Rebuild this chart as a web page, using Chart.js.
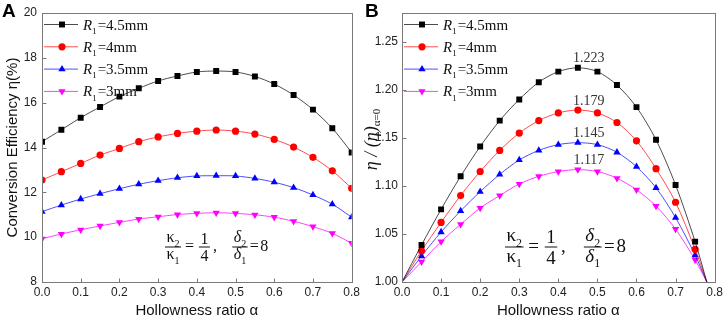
<!DOCTYPE html>
<html>
<head>
<meta charset="utf-8">
<script src="https://cdn.jsdelivr.net/npm/chart.js@4.4.1/dist/chart.umd.min.js"></script>
<style>
  body { margin: 0; background: #fff; }
  #wrap { display: flex; width: 726px; height: 320px; }
  canvas { display: block; }
</style>
</head>
<body>
<div id="wrap">
  <canvas id="chartA" width="363" height="320"></canvas>
  <canvas id="chartB" width="363" height="320"></canvas>
</div>
<script>
// ---- data ----
const radii = ['4.5mm', '4mm', '3.5mm', '3mm'];

const alphaA = [0, 0.05, 0.1, 0.15, 0.2, 0.25, 0.3, 0.35, 0.4, 0.45, 0.5, 0.55, 0.6, 0.65, 0.7, 0.75, 0.8];
const effR45 = [14.26, 14.79, 15.33, 15.81, 16.27, 16.64, 16.97, 17.19, 17.37, 17.41, 17.37, 17.17, 16.83, 16.34, 15.69, 14.86, 13.78];
const effR4  = [12.55, 12.92, 13.29, 13.66, 13.96, 14.26, 14.47, 14.63, 14.73, 14.78, 14.73, 14.60, 14.36, 14.02, 13.56, 12.96, 12.18];
const effR35 = [11.14, 11.43, 11.70, 11.94, 12.16, 12.36, 12.52, 12.65, 12.73, 12.74, 12.73, 12.62, 12.45, 12.21, 11.88, 11.47, 10.89];
const effR3  = [9.93, 10.14, 10.33, 10.50, 10.66, 10.81, 10.91, 11.01, 11.06, 11.09, 11.06, 11.00, 10.89, 10.71, 10.47, 10.17, 9.73];

const alphaB = [0, 0.05, 0.1, 0.15, 0.2, 0.25, 0.3, 0.35, 0.4, 0.45, 0.5, 0.55, 0.6, 0.65, 0.7, 0.75, 0.78];
const ratioR45 = [1.0, 1.0385, 1.0756, 1.110, 1.141, 1.168, 1.190, 1.208, 1.219, 1.223, 1.219, 1.205, 1.182, 1.148, 1.101, 1.042, 1.0];
const ratioR4  = [1.0, 1.0325, 1.062, 1.090, 1.115, 1.137, 1.155, 1.168, 1.176, 1.179, 1.176, 1.166, 1.147, 1.118, 1.083, 1.034, 1.0];
const ratioR35 = [1.0, 1.027, 1.052, 1.074, 1.094, 1.112, 1.127, 1.137, 1.143, 1.145, 1.143, 1.135, 1.120, 1.098, 1.067, 1.028, 1.0];
const ratioR3  = [1.0, 1.021, 1.042, 1.060, 1.077, 1.090, 1.102, 1.110, 1.115, 1.117, 1.115, 1.108, 1.096, 1.079, 1.055, 1.023, 1.0];

const peakAlpha = 0.45;
const peakLabels = ['1.223', '1.179', '1.145', '1.117'];

const ticksAx = [0, 0.1, 0.2, 0.3, 0.4, 0.5, 0.6, 0.7, 0.8];

// ---- styling ----
const looks = [
  { color: '#000000', line: 'rgba(0,0,0,0.7)', shape: 'rect', r: 4.2, rot: 0 },
  { color: '#ff0000', line: 'rgba(255,0,0,0.7)', shape: 'circle', r: 3.6, rot: 0 },
  { color: '#0000ff', line: 'rgba(0,0,255,0.7)', shape: 'triangle', r: 4.2, rot: 0 },
  { color: '#ff00ff', line: 'rgba(255,0,255,0.75)', shape: 'triangle', r: 4.2, rot: 180 }
];
const SANS = '"Liberation Sans", Arial, sans-serif';
const SERIF = '"Liberation Serif", "Times New Roman", serif';

function pts(xs, ys) {
  return xs.map((x, i) => ({ x: x, y: ys[i] }));
}

function makeSets(xs, series, hideEnds) {
  return series.map((ys, i) => {
    const lk = looks[i];
    return {
      label: 'R1=' + radii[i],
      data: pts(xs, ys),
      borderColor: lk.line,
      backgroundColor: lk.color,
      borderWidth: 1,
      tension: 0.3,
      pointStyle: lk.shape,
      pointRotation: lk.rot,
      pointRadius: hideEnds ? ys.map((v, k) => (k === 0 || k === ys.length - 1) ? 0 : lk.r) : lk.r,
      pointBorderWidth: 0
    };
  });
}

// text with subscript, returns width
function subText(ctx, x, y, main, sub, size, style) {
  ctx.font = (style || '') + ' ' + size + 'px ' + SERIF;
  ctx.fillText(main, x, y);
  const w = ctx.measureText(main).width;
  ctx.font = Math.round(size * 0.62) + 'px ' + SERIF;
  ctx.fillText(sub, x + w, y + size * 0.28);
  return w + ctx.measureText(sub).width;
}
function subWidth(ctx, main, sub, size, style) {
  ctx.font = (style || '') + ' ' + size + 'px ' + SERIF;
  const w = ctx.measureText(main).width;
  ctx.font = Math.round(size * 0.62) + 'px ' + SERIF;
  return w + ctx.measureText(sub).width;
}

function fraction(ctx, x, barY, s, num, den, style) {
  const wn = num.sub ? subWidth(ctx, num.t, num.sub, s, style) : (ctx.font = s + 'px ' + SERIF, ctx.measureText(num.t).width);
  const wd = den.sub ? subWidth(ctx, den.t, den.sub, s, style) : (ctx.font = s + 'px ' + SERIF, ctx.measureText(den.t).width);
  const bw = Math.max(wn, wd) + 3;
  ctx.fillRect(x, barY - 0.5, bw, 1);
  if (num.sub) subText(ctx, x + (bw - wn) / 2, barY - s * 0.3, num.t, num.sub, s, style);
  else { ctx.font = s + 'px ' + SERIF; ctx.fillText(num.t, x + (bw - wn) / 2, barY - s * 0.2); }
  if (den.sub) subText(ctx, x + (bw - wd) / 2, barY + s * 0.78, den.t, den.sub, s, style);
  else { ctx.font = s + 'px ' + SERIF; ctx.fillText(den.t, x + (bw - wd) / 2, barY + s * 0.88); }
  return bw;
}

function equation(ctx, x, barY, s) {
  ctx.fillStyle = '#111';
  ctx.textBaseline = 'alphabetic';
  ctx.textAlign = 'left';
  x += fraction(ctx, x, barY, s, { t: 'κ', sub: '2' }, { t: 'κ', sub: '1' }, '') + s * 0.25;
  ctx.font = s + 'px ' + SERIF;
  ctx.fillText('=', x, barY + s * 0.28);
  x += ctx.measureText('=').width + s * 0.3;
  x += fraction(ctx, x, barY, s, { t: '1' }, { t: '4' }, '') + s * 0.2;
  ctx.font = s + 'px ' + SERIF;
  ctx.fillText(',', x, barY + s * 0.28);
  x += s * 1.2;
  x += fraction(ctx, x, barY, s, { t: 'δ', sub: '2' }, { t: 'δ', sub: '1' }, 'italic') + s * 0.12;
  ctx.font = s + 'px ' + SERIF;
  ctx.fillText('=', x, barY + s * 0.28);
  x += ctx.measureText('=').width + s * 0.1;
  ctx.fillText('8', x, barY + s * 0.28);
}

const decor = {
  id: 'decor',
  afterDatasetsDraw(chart, args, o) {
    const ctx = chart.ctx;
    const a = chart.chartArea;
    const xs = chart.scales.x, ys = chart.scales.y;
    ctx.save();

    // frame
    ctx.strokeStyle = '#7a7a7a';
    ctx.lineWidth = 1;
    const L = Math.round(a.left) + 0.5, T = Math.round(a.top) + 0.5;
    const R = Math.round(a.right) + 0.5, B = Math.round(a.bottom) + 0.5;
    ctx.strokeRect(L, T, R - L, B - T);

    // inward ticks
    ctx.beginPath();
    xs.ticks.forEach(t => {
      const px = Math.round(xs.getPixelForValue(t.value)) + 0.5;
      ctx.moveTo(px, B); ctx.lineTo(px, B - 4);
    });
    ys.ticks.forEach(t => {
      const py = Math.round(ys.getPixelForValue(t.value)) + 0.5;
      ctx.moveTo(L, py); ctx.lineTo(L + 4, py);
    });
    ctx.stroke();

    // legend
    chart.data.datasets.forEach((ds, i) => {
      const lk = looks[i];
      const y = a.top + 11.5 + i * 22.3;
      ctx.strokeStyle = lk.line;
      ctx.lineWidth = 1;
      ctx.beginPath();
      ctx.moveTo(a.left + 2, y); ctx.lineTo(a.left + 36, y);
      ctx.stroke();
      ctx.fillStyle = lk.color;
      Chart.helpers.drawPoint(ctx, { pointStyle: lk.shape, rotation: lk.rot, radius: lk.r, borderWidth: 0 }, a.left + 20, y);
      ctx.fillStyle = '#111';
      ctx.textBaseline = 'alphabetic';
      ctx.textAlign = 'left';
      const w = subText(ctx, a.left + 41, y + 5, 'R', '1', 15, 'italic');
      ctx.font = '15px ' + SERIF;
      ctx.fillText('=' + radii[i], a.left + 41 + w + 1, y + 5);
    });

    // equation (x relative to the plot's left edge)
    equation(ctx, a.left + o.eqDx, o.eqY, o.eqSize);

    // panel letter
    ctx.fillStyle = '#000';
    ctx.font = 'bold 19px ' + SANS;
    ctx.textAlign = 'left';
    ctx.textBaseline = 'top';
    ctx.fillText(o.letter, 2, 2);

    // peak labels
    if (o.peaks) {
      ctx.fillStyle = '#333';
      ctx.font = '14px ' + SERIF;
      ctx.textAlign = 'center';
      ctx.textBaseline = 'middle';
      chart.data.datasets.forEach((ds, i) => {
        const k = ds.data.findIndex(p => Math.abs(p.x - peakAlpha) < 1e-9);
        const el = chart.getDatasetMeta(i).data[k];
        ctx.fillText(peakLabels[i], el.x + 11, el.y - 9);
      });
    }

    // rotated y title with subscript (panel B)
    if (o.ratioTitle) {
      ctx.translate(9, (a.top + a.bottom) / 2 - 8);
      ctx.rotate(-Math.PI / 2);
      ctx.fillStyle = '#111';
      ctx.textBaseline = 'middle';
      ctx.textAlign = 'left';
      const s = 18;
      const main = 'η / (η)';
      const sub = 'α=0';
      const tw = subWidth(ctx, main, sub, s, 'italic');
      subText(ctx, -tw / 2, 0, main, sub, s, 'italic');
    }
    ctx.restore();
  }
};

function xAxis() {
  return {
    type: 'linear', min: 0, max: 0.8,
    afterBuildTicks: s => { s.ticks = ticksAx.map(v => ({ value: v })); },
    ticks: { callback: v => v.toFixed(1), font: { family: SANS, size: 12 }, color: '#222', padding: 3, maxRotation: 0 },
    grid: { display: false, drawTicks: false },
    border: { display: false },
    title: { display: true, text: 'Hollowness ratio α', font: { family: SANS, size: 15 }, color: '#111', padding: { top: 0, bottom: 0 } },
    afterFit: s => { s.height = 38; }
  };
}

new Chart(document.getElementById('chartA'), {
  type: 'line',
  data: { datasets: makeSets(alphaA, [effR45, effR4, effR35, effR3], false) },
  options: {
    responsive: false,
    animation: false,
    layout: { padding: { top: 13, right: 7, left: 0, bottom: 0 } },
    plugins: {
      legend: { display: false },
      tooltip: { enabled: false },
      decor: { letter: 'A', eqDx: 123, eqY: 247, eqSize: 16 }
    },
    scales: {
      x: xAxis(),
      y: {
        min: 8, max: 20,
        ticks: { stepSize: 2, font: { family: SANS, size: 12 }, color: '#222', padding: 5 },
        grid: { display: false, drawTicks: false },
        border: { display: false },
        title: { display: true, text: 'Conversion Efficiency η(%)', font: { family: SANS, size: 15 }, color: '#111', padding: { top: 4, bottom: 0 } },
        afterFit: s => { s.width = 42; }
      }
    }
  },
  plugins: [decor]
});

new Chart(document.getElementById('chartB'), {
  type: 'line',
  data: { datasets: makeSets(alphaB, [ratioR45, ratioR4, ratioR35, ratioR3], true) },
  options: {
    responsive: false,
    animation: false,
    layout: { padding: { top: 13, right: 10, left: 0, bottom: 0 } },
    plugins: {
      legend: { display: false },
      tooltip: { enabled: false },
      decor: { letter: 'B', eqDx: 103, eqY: 247, eqSize: 19, peaks: true, ratioTitle: true }
    },
    scales: {
      x: xAxis(),
      y: {
        min: 1.0, max: 1.28,
        ticks: { stepSize: 0.05, includeBounds: false, callback: v => v.toFixed(2), font: { family: SANS, size: 12 }, color: '#222', padding: 4 },
        grid: { display: false, drawTicks: false },
        border: { display: false },
        afterFit: s => { s.width = 39; }
      }
    }
  },
  plugins: [decor]
});
</script>
</body>
</html>
